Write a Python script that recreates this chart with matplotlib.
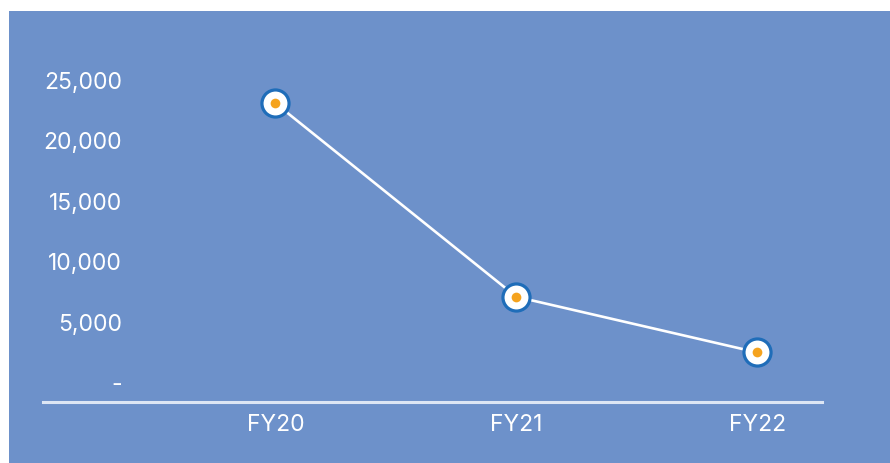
import matplotlib
matplotlib.use("Agg")
import matplotlib.pyplot as plt
from matplotlib.patches import Rectangle
from matplotlib.ticker import FixedLocator, FuncFormatter

# chart data
years = ["FY20", "FY21", "FY22"]
values = [23000, 7000, 2400]
y_ticks = [0, 5000, 10000, 15000, 20000, 25000]

BG_BLUE = "#6D91CA"
EDGE_BLUE = "#1F6DB9"
ORANGE = "#F5A31E"
AXIS_LINE = "#DDE6F4"

plt.rcParams["font.family"] = ["Inter", "DejaVu Sans"]

fig = plt.figure(figsize=(8.9, 4.64), dpi=100, facecolor="white")
# blue panel (white margin on the left and top)
panel = Rectangle((9 / 890, 0), 1, (464 - 12) / 464,
                  transform=fig.transFigure, facecolor=BG_BLUE,
                  edgecolor="none", zorder=-10)
fig.add_artist(panel)

ax = fig.add_axes([43 / 890, 61 / 464, 779 / 890, 363 / 464])
ax.set_facecolor("none")
ax.set_zorder(5)

x = list(range(len(years)))
ax.plot(x, values, color="white", lw=1.9, zorder=2)
ax.plot(x, values, "o", ms=19.5, mfc="white", mec=EDGE_BLUE, mew=2.3, zorder=3)
ax.plot(x, values, "o", ms=7, mfc=ORANGE, mec="none", zorder=4)

ax.set_xlim(-0.964, 2.268)
ax.set_ylim(-1694, 28306)

ax.set_xticks(x)
ax.set_xticklabels(years)
ax.yaxis.set_major_locator(FixedLocator(y_ticks))
ax.yaxis.set_major_formatter(FuncFormatter(lambda v, p: "-" if v == 0 else f"{v:,.0f}"))

ax.tick_params(axis="both", length=0, colors="white", labelsize=16.5)
ax.tick_params(axis="x", pad=8)
ax.tick_params(axis="y", pad=-57)

for side in ["top", "right", "left"]:
    ax.spines[side].set_visible(False)
ax.spines["bottom"].set_color(AXIS_LINE)
ax.spines["bottom"].set_linewidth(2.2)

fig.savefig("out.png", dpi=100, facecolor="white")
